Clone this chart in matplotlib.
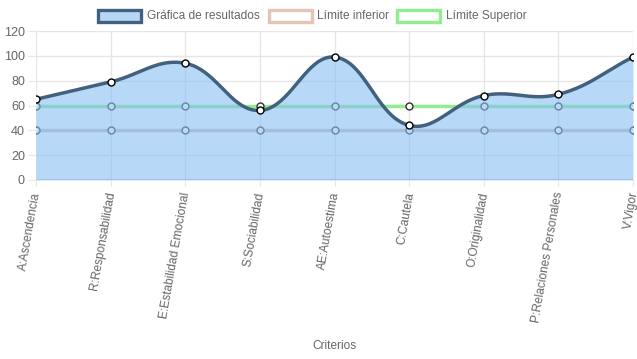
import numpy as np
import matplotlib
matplotlib.use("Agg")
import matplotlib.pyplot as plt
from matplotlib.patches import Rectangle

categorias = ["A:Ascendencia", "R:Responsabilidad", "E:Estabilidad Emocional",
              "S:Sociabilidad", "AE:Autoestima", "C:Cautela", "O:Originalidad",
              "P:Relaciones Personales", "V:Vigor"]
resultados = [65, 79, 94, 56, 99, 44, 68, 69, 99]
limite_inferior = [40, 40, 40, 40, 40, 40, 40, 40, 40]
limite_superior = [60, 60, 60, 60, 60, 60, 60, 60, 60]
y_ticks = [0, 20, 40, 60, 80, 100, 120]

plt.rcParams['font.family'] = ['Liberation Sans', 'DejaVu Sans']

W, H = 637, 359
x0, x1, ytop, ybot = 36, 633, 31, 180


def spline(xs, ys, sx, sy, tension=0.4, n=40):
    # Chart.js style cubic bezier through points (computed in pixel space)
    px = np.array(xs, float) * sx
    py = np.array(ys, float) * sy
    m = len(px)
    cp_prev = np.zeros((m, 2))
    cp_next = np.zeros((m, 2))
    for i in range(m):
        prev = np.array([px[max(i - 1, 0)], py[max(i - 1, 0)]])
        cur = np.array([px[i], py[i]])
        nxt = np.array([px[min(i + 1, m - 1)], py[min(i + 1, m - 1)]])
        d01 = np.hypot(*(cur - prev))
        d12 = np.hypot(*(nxt - cur))
        tot = d01 + d12
        s01 = d01 / tot if tot else 0
        s12 = d12 / tot if tot else 0
        cp_prev[i] = cur - tension * s01 * (nxt - prev)
        cp_next[i] = cur + tension * s12 * (nxt - prev)
    outx, outy = [], []
    t = np.linspace(0, 1, n)
    for i in range(m - 1):
        p0 = np.array([px[i], py[i]])
        p1 = cp_next[i]
        p2 = cp_prev[i + 1]
        p3 = np.array([px[i + 1], py[i + 1]])
        b = ((1 - t) ** 3)[:, None] * p0 + (3 * (1 - t) ** 2 * t)[:, None] * p1 \
            + (3 * (1 - t) * t ** 2)[:, None] * p2 + (t ** 3)[:, None] * p3
        outx.extend(b[:, 0])
        outy.extend(b[:, 1])
    return np.array(outx) / sx, np.array(outy) / sy


fig = plt.figure(figsize=(W / 100, H / 100), dpi=100)
ax = fig.add_axes([x0 / W, 1 - ybot / H, (x1 - x0) / W, (ybot - ytop) / H])
ax.set_xlim(0, len(categorias) - 1)
ax.set_ylim(0, 120)

xi = np.arange(len(categorias))
grid_c = '#e6e6e6'
for v in y_ticks[1:]:
    ax.axhline(v, color=grid_c, lw=1, zorder=0)
for i in xi:
    ax.axvline(i, color=grid_c, lw=1, zorder=0)
ax.axhline(0, color='#cccccc', lw=1.5, zorder=0.5)

# limit lines (drawn under the fill)
ax.plot(xi, limite_inferior, color='#d9bcc8', lw=2.5, zorder=1)
ax.plot(xi, limite_superior, color='#90ee90', lw=2.5, zorder=1)
ax.scatter(xi, limite_inferior, s=25, facecolor='white', edgecolor='#333333', lw=1, zorder=1.5)
ax.scatter(xi, limite_superior, s=25, facecolor='white', edgecolor='#333333', lw=1, zorder=1.5)

sx = (x1 - x0) / (len(categorias) - 1)
sy = (ybot - ytop) / 120
cx, cy = spline(xi, resultados, sx, sy)
ax.fill_between(cx, 0, cy, color='#87bef0', alpha=0.6, lw=0, zorder=2)
ax.plot(cx, cy, color='#41617f', lw=2.5, zorder=3, solid_capstyle='round')
ax.scatter(xi, resultados, s=25, facecolor='white', edgecolor='black', lw=1, zorder=4)

for s in ax.spines.values():
    s.set_visible(False)
ax.set_yticks(y_ticks)
ax.set_xticks(xi)
ax.set_xticklabels([])
ax.tick_params(axis='y', length=6, color=grid_c, pad=2, labelsize=9, labelcolor='#666666')
ax.tick_params(axis='x', length=4, color=grid_c)
# rotated category labels
for i, lab in zip(xi, categorias):
    ax.annotate(lab, (i, 0), xytext=(-3.4, -7.9), textcoords='offset points',
                rotation=80, ha='right', va='top', rotation_mode='anchor',
                fontsize=8.6, color='#666666', annotation_clip=False)
ax.text(0.5, -(346 - ybot) / (ybot - ytop), 'Criterios', transform=ax.transAxes,
        fontsize=8.6, color='#666666', ha='center', va='center')

# legend drawn by hand
items = [(98, 147, "Gráfica de resultados", '#b7d8f5', '#41617f'),
         (269, 317, "Límite inferior", 'white', '#e2c5b6'),
         (397, 446, "Límite Superior", 'white', '#90ee90')]
for bx, tx, txt, fc, ec in items:
    fig.patches.append(Rectangle((bx / W, 1 - 22 / H), 43 / W, 12 / H,
                                 transform=fig.transFigure, facecolor=fc,
                                 edgecolor=ec, lw=2.4))
    fig.text(tx / W, 1 - 16 / H, txt, fontsize=8.6, color='#666666', va='center', ha='left')

fig.savefig('out.png', dpi=100)
